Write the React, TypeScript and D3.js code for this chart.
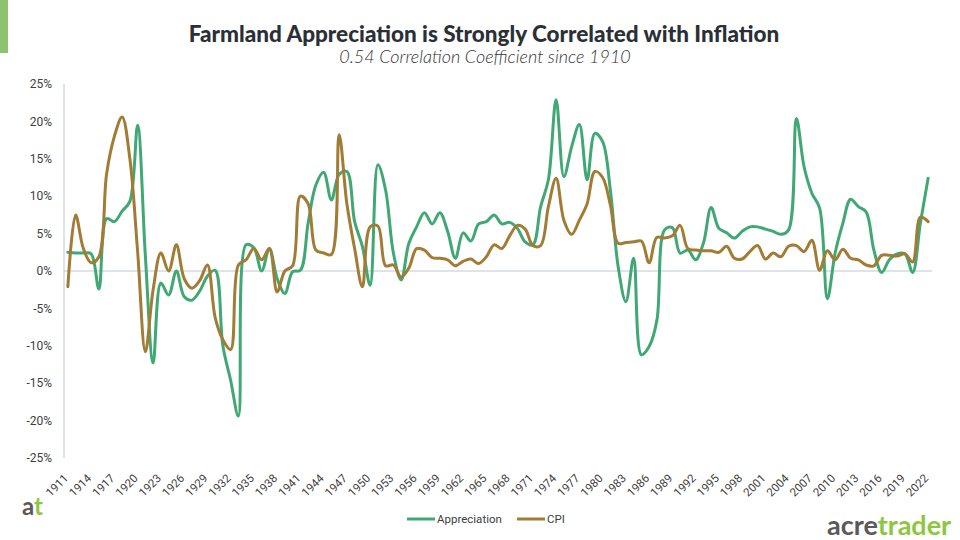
import * as d3 from 'd3';
import React from 'react';

const years: number[] = d3.range(1911, 2023);

const appreciation: number[] = [
  2.5, 2.4, 2.4, 2.3, -2.4, 7.0, 6.6, 8.0, 9.3, 19.5,
  2.0, -12.3, -1.6, -3.2, 0.0, -3.4, -3.9, -2.7, -0.7, 0.1,
  -10.0, -14.6, -19.4, 3.5, 3.1, 0.0, 3.0, -1.0, -3.0, -0.1,
  0.1, 6.4, 11.5, 13.2, 9.5, 12.9, 13.3, 6.6, 3.3, -1.9,
  14.2, 10.8, 2.4, -1.2, 3.7, 5.9, 7.8, 6.3, 7.8, 5.3,
  1.7, 5.1, 4.0, 6.3, 6.6, 7.5, 6.3, 6.5, 5.7, 3.9,
  3.5, 8.6, 12.2, 22.9, 12.6, 16.6, 19.6, 12.2, 18.4, 17.3,
  10.8, 0.6, -4.1, 1.7, -11.2, -10.1, -6.6, 5.5, 5.8, 2.4,
  2.8, 1.5, 3.7, 8.5, 5.7, 5.1, 4.4, 5.3, 5.9, 5.9,
  5.6, 5.3, 4.9, 5.5, 20.4, 13.9, 10.4, 8.4, -3.7, 2.4,
  6.4, 9.6, 8.6, 7.9, 2.8, -0.2, 1.5, 2.3, 2.3, -0.2,
  6.4, 12.4,
];

const cpi: number[] = [
  -2.1, 7.5, 3.0, 1.1, 1.9, 13.0, 18.0, 20.6, 15.0, 2.6,
  -10.8, -2.5, 2.4, 0.0, 3.5, -1.0, -2.3, -1.3, 0.8, -6.2,
  -9.2, -10.5, 0.8, 1.5, 3.0, 1.5, 3.0, -2.8, 0.0, 0.7,
  10.0, 9.0, 2.8, 2.4, 2.2, 18.2, 9.0, 3.0, -2.1, 5.9,
  6.0, 0.7, 0.8, -0.8, 0.4, 3.0, 2.8, 1.8, 1.7, 1.5,
  0.7, 1.3, 1.6, 1.0, 1.9, 3.5, 3.0, 4.7, 6.1, 5.6,
  3.4, 3.4, 8.6, 12.4, 6.8, 4.9, 6.8, 9.0, 13.3, 12.5,
  8.8, 3.7, 3.8, 3.9, 4.0, 1.1, 4.5, 4.4, 4.7, 6.1,
  3.0, 2.8, 2.7, 2.7, 2.5, 3.3, 1.7, 1.6, 2.6, 3.4,
  1.6, 2.4, 1.9, 3.3, 3.4, 2.6, 4.1, 0.1, 2.7, 1.5,
  2.9, 1.7, 1.5, 0.8, 0.7, 2.1, 2.1, 2.0, 2.3, 1.2,
  7.2, 6.6,
];

const yTicks: number[] = [25, 20, 15, 10, 5, 0, -5, -10, -15, -20, -25];
const xTickYears: number[] = years.filter((y) => (y - 1911) % 3 === 0);

const seriesList = [
  { name: 'Appreciation', values: appreciation, color: '#3fa874' },
  { name: 'CPI', values: cpi, color: '#a27b35' },
];

const WIDTH = 960;
const HEIGHT = 540;
const left = 64;
const right = 932;
const top = 84;
const bottom = 458;

export default function App() {
  const x = d3.scalePoint<number>().domain(years).range([left, right]).padding(0.5);
  const y = d3.scaleLinear().domain([-25, 25]).range([bottom, top]);

  // centripetal catmull-rom keeps the overshoot close to excel's smoothing
  const line = d3
    .line<number>()
    .x((_, i) => x(years[i]) as number)
    .y((d) => y(d))
    .curve(d3.curveCatmullRom.alpha(0.5));

  return (
    <svg
      width={WIDTH}
      height={HEIGHT}
      style={{ position: 'absolute', left: 0, top: 0, display: 'block', background: '#fff' }}
    >
      <rect x={0} y={0} width={8} height={53} fill='#8dc26f' />

      <text
        x={484}
        y={42}
        textAnchor='middle'
        fontFamily='Lato, sans-serif'
        fontWeight={900}
        fontSize={22.5}
        fill='#2b2f36'
      >
        Farmland Appreciation is Strongly Correlated with Inflation
      </text>
      <text
        x={485}
        y={63}
        textAnchor='middle'
        fontFamily='Lato, sans-serif'
        fontStyle='italic'
        fontWeight={300}
        fontSize={18}
        fill='#333'
      >
        0.54 Correlation Coefficient since 1910
      </text>

      {/* y axis */}
      <line x1={left} x2={left} y1={top} y2={bottom} stroke='#bfc8d3' strokeWidth={1} />
      <line x1={left} x2={right} y1={y(0)} y2={y(0)} stroke='#bfc8d3' strokeWidth={1} />
      {yTicks.map((t) => (
        <text
          key={t}
          x={52}
          y={y(t)}
          dy='0.35em'
          textAnchor='end'
          fontFamily='Roboto, sans-serif'
          fontSize={12}
          fill='#404040'
        >
          {`${t}%`}
        </text>
      ))}

      {/* x labels */}
      {xTickYears.map((yr) => {
        const px = (x(yr) as number) + 1;
        const py = 479;
        return (
          <text
            key={yr}
            x={px}
            y={py}
            transform={`rotate(-45 ${px} ${py})`}
            textAnchor='end'
            fontFamily='Roboto, sans-serif'
            fontSize={11.5}
            fill='#404040'
          >
            {yr}
          </text>
        );
      })}

      {seriesList.map((s) => (
        <path
          key={s.name}
          d={line(s.values) ?? ''}
          fill='none'
          stroke={s.color}
          strokeWidth={3}
          strokeLinejoin='round'
          strokeLinecap='round'
        />
      ))}

      {/* legend */}
      {seriesList.map((s, i) => {
        const lx = i === 0 ? 407 : 517;
        return (
          <g key={s.name}>
            <line x1={lx} x2={lx + 28} y1={519} y2={519} stroke={s.color} strokeWidth={3} />
            <text
              x={lx + 30}
              y={519}
              dy='0.35em'
              fontFamily='Roboto, sans-serif'
              fontSize={11.5}
              fill='#404040'
            >
              {s.name}
            </text>
          </g>
        );
      })}

      {/* logos */}
      <text x={22} y={515} fontFamily='Lato, sans-serif' fontWeight={700} fontSize={24}>
        <tspan fill='#5a5a5a'>a</tspan>
        <tspan fill='#8dc63f'>t</tspan>
      </text>
      <text x={827} y={535} fontFamily='Lato, sans-serif' fontWeight={700} fontSize={27}>
        <tspan fill='#5a5a5a'>acre</tspan>
        <tspan fill='#8dc63f'>trader</tspan>
      </text>
    </svg>
  );
}
